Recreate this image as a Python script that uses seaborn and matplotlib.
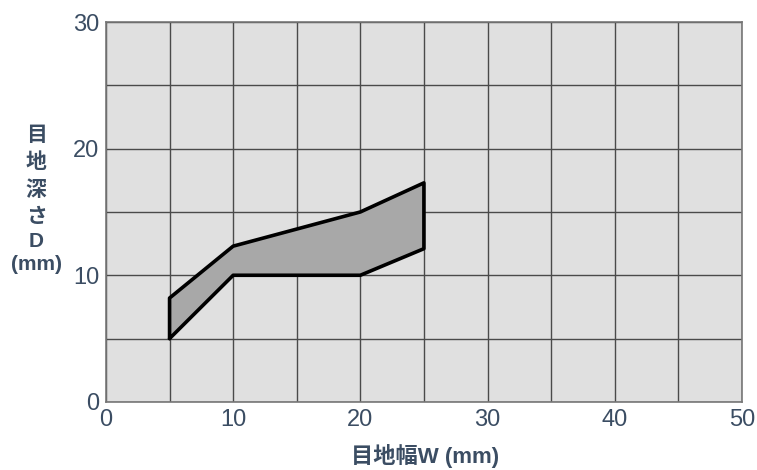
import matplotlib
matplotlib.use("Agg")
import matplotlib.pyplot as plt
import seaborn as sns
import pandas as pd

# outline of the shaded region (joint width W vs depth D), clockwise from lower-left
width_w = [5, 5, 10, 20, 25, 25, 20, 10, 5]
depth_d = [5, 8.2, 12.3, 15.0, 17.3, 12.1, 10, 10, 5]

x_ticks = [0, 10, 20, 30, 40, 50]
y_ticks = [0, 10, 20, 30]
grid_step = 5

xlabel = "目地幅W (mm)"
ylabel_lines = ["目", "地", "深", "さ", "D", "(mm)"]

sns.set_theme(style="white")
plt.rcParams["font.family"] = ["Liberation Sans", "Noto Sans CJK JP", "DejaVu Sans"]

text_col = "#3b4d63"
lab_font = ["Liberation Sans", "Noto Sans CJK JP"]
df = pd.DataFrame({"W": width_w, "D": depth_d})

fig = plt.figure(figsize=(7.57, 4.70), dpi=100)
ax = fig.add_axes([0.140, 0.145, 0.840, 0.808])
ax.set_facecolor("#e0e0e0")

ax.fill(df["W"], df["D"], facecolor="#a8a8a8", edgecolor="none", zorder=3)
sns.lineplot(data=df, x="W", y="D", sort=False, estimator=None,
             color="black", linewidth=2.6, ax=ax, zorder=4)

ax.set_xlim(0, 50)
ax.set_ylim(0, 30)
ax.set_xticks(range(0, 51, grid_step), minor=True)
ax.set_yticks(range(0, 31, grid_step), minor=True)
ax.set_xticks(x_ticks)
ax.set_yticks(y_ticks)
ax.set_xticklabels([str(v) for v in x_ticks], fontsize=17, color=text_col)
ax.set_yticklabels([str(v) for v in y_ticks], fontsize=17, color=text_col)
ax.grid(True, which="both", color="#4a4a4a", linewidth=1.0, zorder=1)
ax.set_axisbelow(True)
ax.tick_params(which="both", length=0, pad=5)
for s in ax.spines.values():
    s.set_color("#777777")
    s.set_linewidth(1.2)

ax.set_xlabel("")
ax.set_ylabel("")
fig.text(0.561, 0.030, xlabel, ha="center", va="center", fontsize=16,
         fontweight="bold", color=text_col, family=lab_font)

# vertical label, one line per glyph (pixel rows from the top of the figure)
label_rows = [134, 162, 190, 216, 242, 264]
label_sizes = [15, 15, 15, 15, 15, 15]
label_fams = ["Noto Sans CJK JP"] * 4 + ["Liberation Sans"] * 2
for txt, row, size, fam in zip(ylabel_lines, label_rows, label_sizes, label_fams):
    fig.text(36 / 757, 1 - row / 470, txt, ha="center", va="center",
             fontsize=size, fontweight="bold", color=text_col, family=fam)

fig.savefig("out.png", dpi=100)
